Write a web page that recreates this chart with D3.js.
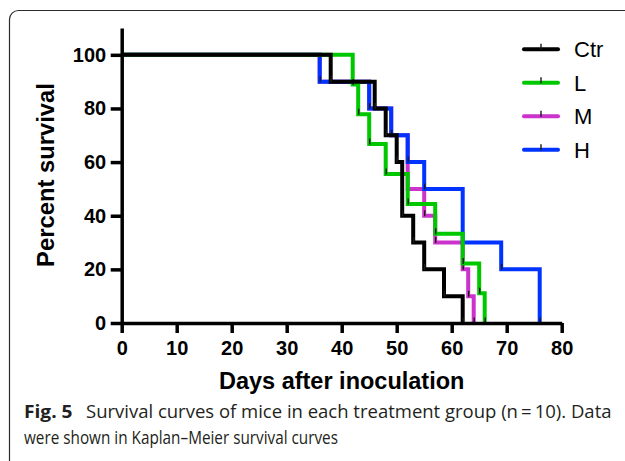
<!DOCTYPE html>
<html>
<head>
<meta charset="utf-8">
<script src="https://cdn.jsdelivr.net/npm/d3@7"></script>
<style>
  html, body { margin: 0; padding: 0; background: #fff; }
  svg { display: block; }
</style>
</head>
<body>
<svg id="chart" width="625" height="461"></svg>
<script>
// ---------- data ----------
const seriesNames = ["Ctr", "L", "M", "H"];
const seriesColors = ["#000000", "#00c800", "#cc33cc", "#0033ff"];
const ctrDays = [38, 46, 48, 50, 51, 53, 55, 58.6, 62];
const ctrSurv = [90, 80, 70, 60, 40, 30, 20, 10, 0];
const lDays = [42, 43, 45, 48, 52, 57, 62, 65, 66];
const lSurv = [88.9, 77.8, 66.7, 55.6, 44.4, 33.3, 22.2, 11.1, 0];
const mDays = [36, 45, 49, 52, 55, 57, 62, 63, 64];
const mSurv = [90, 80, 70, 50, 40, 30, 20, 10, 0];
const hDays = [36, 45, 49, 52, 55, 62, 69, 76];
const hSurv = [90, 80, 70, 60, 50, 30, 20, 0];
const xTicks = [0, 10, 20, 30, 40, 50, 60, 70, 80];
const yTicks = [0, 20, 40, 60, 80, 100];
const xTitle = "Days after inoculation";
const yTitle = "Percent survival";
const captionBold = "Fig. 5";
const captionLine1 = "Survival curves of mice in each treatment group (n\u2009=\u200910). Data";
const captionLine2 = "were shown in Kaplan\u2013Meier survival curves";

const daysBySeries = [ctrDays, lDays, mDays, hDays];
const survBySeries = [ctrSurv, lSurv, mSurv, hSurv];

// ---------- drawing ----------
const svg = d3.select("#chart");
const FONT = "'Liberation Sans', Arial, Helvetica, sans-serif";

svg.append("rect").attr("width", 625).attr("height", 461).attr("fill", "#fff");

// figure frame (rounded top-left corner, continues off-canvas)
svg.append("rect")
  .attr("x", 9.5).attr("y", 10.5)
  .attr("width", 800).attr("height", 800)
  .attr("rx", 9).attr("ry", 9)
  .attr("fill", "none").attr("stroke", "#2b2b2b").attr("stroke-width", 1.2);

const x = d3.scaleLinear().domain([0, 80]).range([121.7, 561.7]);
const y = d3.scaleLinear().domain([0, 110]).range([323, 28]);

// curves, drawn bottom to top: M, H, L, Ctr
const order = [2, 3, 1, 0];
const line = d3.line().x(d => x(d[0])).y(d => y(d[1])).curve(d3.curveStepAfter);
const curves = svg.append("g");
order.forEach(i => {
  const pts = [[0, 100]].concat(daysBySeries[i].map((d, k) => [d, survBySeries[i][k]]));
  curves.append("path")
    .attr("d", line(pts))
    .attr("fill", "none")
    .attr("stroke", seriesColors[i])
    .attr("stroke-width", 4)
    .attr("stroke-linejoin", "miter")
    .attr("stroke-linecap", "butt");
  curves.selectAll(null)
    .data(daysBySeries[i].map((d, k) => [d, survBySeries[i][k]]))
    .enter().append("line")
    .attr("x1", d => x(d[0]) + 0.5).attr("x2", d => x(d[0]) + 0.5)
    .attr("y1", d => y(d[1]) + 0.5).attr("y2", d => y(d[1]) - 5.5)
    .attr("stroke", "#1a1a1a").attr("stroke-width", 1.4);
});

// axes
const xAxis = svg.append("g")
  .attr("transform", `translate(0,${y(0)})`)
  .call(d3.axisBottom(x).tickValues(xTicks).tickSize(10).tickSizeOuter(0).tickPadding(7.5));
const yAxis = svg.append("g")
  .attr("transform", `translate(${x(0)},0)`)
  .call(d3.axisLeft(y).tickValues(yTicks).tickSize(11).tickSizeOuter(0).tickPadding(4.5));

[xAxis, yAxis].forEach(g => {
  g.select(".domain").attr("stroke", "#000").attr("stroke-width", 3.5);
  g.selectAll(".tick line").attr("stroke", "#000").attr("stroke-width", 3.5);
  g.selectAll(".tick text")
    .attr("fill", "#000")
    .attr("font-family", FONT)
    .attr("font-weight", "bold")
    .attr("font-size", 20);
});

// axis titles
svg.append("text")
  .attr("x", 341.7).attr("y", 388.5)
  .attr("text-anchor", "middle")
  .attr("font-family", FONT).attr("font-weight", "bold").attr("font-size", 23.5)
  .attr("fill", "#000")
  .text(xTitle);

svg.append("text")
  .attr("transform", "translate(53.5,175) rotate(-90)")
  .attr("text-anchor", "middle")
  .attr("font-family", FONT).attr("font-weight", "bold").attr("font-size", 23.8)
  .attr("fill", "#000")
  .text(yTitle);

// legend
const legendY0 = 49.3, legendStep = 33.5;
const legend = svg.append("g");
seriesNames.forEach((name, i) => {
  const ly = legendY0 + i * legendStep;
  legend.append("line")
    .attr("x1", 524).attr("x2", 558).attr("y1", ly).attr("y2", ly)
    .attr("stroke", seriesColors[i]).attr("stroke-width", 4).attr("stroke-linecap", "round");
  legend.append("line")
    .attr("x1", 541).attr("x2", 541).attr("y1", ly + 0.5).attr("y2", ly - 5.5)
    .attr("stroke", "#1a1a1a").attr("stroke-width", 1.4);
  legend.append("text")
    .attr("x", 574).attr("y", ly).attr("dy", "0.36em")
    .attr("font-family", FONT).attr("font-size", 22).attr("fill", "#000")
    .text(name);
});

// caption
const CAP = "'Open Sans', 'Noto Sans', sans-serif";
svg.append("text")
  .attr("x", 24).attr("y", 417.5)
  .attr("font-family", CAP).attr("font-weight", "bold").attr("font-size", 18)
  .attr("fill", "#231f20")
  .attr("textLength", 48.5).attr("lengthAdjust", "spacingAndGlyphs")
  .text(captionBold);
svg.append("text")
  .attr("x", 86).attr("y", 417.5)
  .attr("font-family", CAP).attr("font-size", 18)
  .attr("fill", "#231f20")
  .attr("textLength", 525.5).attr("lengthAdjust", "spacingAndGlyphs")
  .text(captionLine1);
svg.append("text")
  .attr("x", 24).attr("y", 444)
  .attr("font-family", CAP).attr("font-size", 18)
  .attr("fill", "#231f20")
  .attr("textLength", 314).attr("lengthAdjust", "spacingAndGlyphs")
  .text(captionLine2);
</script>
</body>
</html>
